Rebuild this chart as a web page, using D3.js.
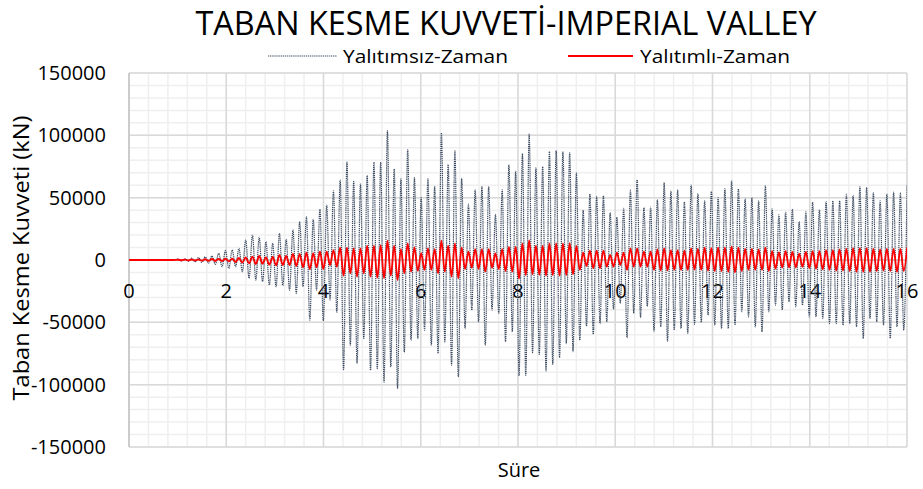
<!DOCTYPE html>
<html>
<head>
<meta charset="utf-8">
<script src="https://cdn.jsdelivr.net/npm/d3@7/dist/d3.min.js"></script>
<style>
  body { margin: 0; background: #fff; }
  text { font-family: "Open Sans", "Noto Sans", sans-serif; fill: #000; }
</style>
</head>
<body>
<div id="chart"></div>
<script>
// peaks of each oscillation cycle, in 1000 kN
// cycle k has its max at t0 + k*period and its min half a period later
var t0 = 1.012, period = 0.1388;

var yalitimsizMax = [0.8,1.0,1.5,2.0,2.5,3.2,5.4,7.5,8.0,9.4,
  16,20,18.2,14.7,13.4,21.4,16.6,24.1,30.8,34.8,
  32.7,40.7,44,55.5,64,78.5,63,61,67.8,78.5,
  78.5,103.7,73,65,88.4,66,50,65,59,102,
  76.5,87.5,65.4,44.8,56.3,58.9,58.9,36.7,56.3,76.4,
  71.2,85.5,101,74,75,87,88,87,86,69.7,
  40,53,51,51.5,38,34.3,41.5,56,64.5,42,
  42.5,48.5,62.2,55.3,56.3,46.5,60,53,47.4,54.9,
  50,57,63.5,57,49,50,47.4,59.5,41,36.2,
  38.3,40.7,30.8,38.6,46.4,40.2,46.9,47.4,47.4,52.8,
  51.8,58.7,58.2,54.1,47.4,52.8,54.4,53.6,60.8];

var yalitimsizMin = [-0.8,-1.0,-1.5,-2.0,-2.5,-3.5,-5.4,-6.7,-5.4,-9.4,
  -14.7,-16.1,-17.4,-20.1,-21.4,-20.6,-24.1,-26.8,-21.4,-48.2,
  -24.1,-48.8,-32,-42,-88,-68.3,-83,-63,-88.5,-87.2,
  -97.9,-85.8,-103.2,-74,-64.3,-63,-56.3,-68.3,-75,-65.6,
  -84.4,-93.8,-55,-40.2,-49.6,-68.3,-40.2,-42.9,-65.6,-57.6,
  -93,-92.5,-74.4,-75.7,-89,-83.7,-78.4,-67,-73.5,-64.3,
  -53,-59.6,-51,-49.6,-39.5,-34.8,-62.3,-42.9,-46.2,-37.2,
  -57,-53.6,-65,-56.2,-54.9,-58.9,-51.6,-50,-44.2,-52.3,
  -55,-55,-52.3,-41.5,-45.6,-53.6,-57.6,-41.5,-36.2,-40,
  -33.5,-37.5,-36.2,-45.6,-45.6,-47,-51,-51,-52.3,-51,
  -53.6,-63,-47,-49.6,-52.3,-63,-53.6,-56.3];

var yalitimliMax = [0.2,0.3,0.4,0.5,0.6,0.8,0.9,1.0,1.0,1.6,
  2.1,2.7,3.2,2.1,2.5,4,3.2,4.8,4.8,5.9,
  5.4,6.7,6.7,8,9.9,10,9.4,9.4,11.5,11.5,
  12,15.5,11.5,8.8,13.4,10.2,5.4,9.4,8.8,15.5,
  11.5,13.4,9.9,6.7,8.8,8.8,8.8,5.4,8.8,10.5,
  10.7,13.4,15.8,11.5,11.5,13.4,13.4,13.4,13.5,11.3,
  5.9,7.5,7.5,7.5,4,5.9,5.9,9.4,9.4,6.7,
  6.7,8.6,9.4,8,8,7.5,9.4,9,10,9.5,
  10,10,11,10,9,9,8.5,10,7,6,
  7,6.5,5,6.5,7,7,8,8,8.5,9,
  9.5,9.5,9.5,9,8.5,9,9,9,10];

var yalitimliMin = [-0.2,-0.3,-0.4,-0.5,-0.6,-0.8,-0.9,-1.0,-1.6,-2.1,
  -2.7,-3.2,-3,-3.8,-4.3,-4,-4,-4.8,-5.9,-7.5,
  -5.9,-7.2,-4,-5.4,-12.6,-10.7,-13.4,-10.7,-13.4,-14.2,
  -14.7,-12.6,-16.1,-10.7,-9.4,-8.8,-8,-8,-10.7,-9.4,
  -13.4,-14.7,-7.2,-6.2,-7.2,-9.4,-6.2,-7.2,-9,-9.4,
  -15,-12.1,-11.5,-12,-12.5,-12,-12.5,-12,-11.5,-8,
  -4.8,-6.7,-6.7,-5.4,-5.4,-4,-8,-5.4,-5.4,-5.4,
  -8,-8.3,-8.3,-8,-8,-8,-7.8,-8,-8.5,-9,
  -9,-9.5,-10,-9,-8,-8,-8,-9,-7,-6,
  -6,-6,-5.5,-6.5,-7,-7.5,-8,-8.5,-8.5,-9,
  -9.5,-9.5,-9.5,-9,-8.5,-9,-9.5,-9];

var xTicks = [0,2,4,6,8,10,12,14,16];
var yTicks = [-150000,-100000,-50000,0,50000,100000,150000];

function buildSeries(maxs, mins) {
  var pts = [{t: 0, v: 0}, {t: 0.9, v: 0}];
  maxs.forEach(function(m, k) {
    var tk = t0 + k * period;
    pts.push({t: tk, v: m * 1000});
    if (k < mins.length) pts.push({t: tk + period / 2, v: mins[k] * 1000});
  });
  return pts;
}

var dataYalitimsiz = buildSeries(yalitimsizMax, yalitimsizMin);
var dataYalitimli = buildSeries(yalitimliMax, yalitimliMin);

var width = 923, height = 489;
var plot = {left: 129, right: 907, top: 73, bottom: 447};

var x = d3.scaleLinear().domain([0, 16]).range([plot.left, plot.right]);
var y = d3.scaleLinear().domain([-150000, 150000]).range([plot.bottom, plot.top]);

var svg = d3.select("#chart").append("svg")
    .attr("width", width)
    .attr("height", height);

svg.append("rect").attr("width", width).attr("height", height).attr("fill", "#fff");

// minor grid
var grid = svg.append("g");
grid.selectAll("line.mx")
    .data(d3.range(0, 16.001, 0.4))
  .enter().append("line")
    .attr("x1", d => x(d)).attr("x2", d => x(d))
    .attr("y1", plot.top).attr("y2", plot.bottom)
    .attr("stroke", "#efefef").attr("stroke-width", 1.5);
grid.selectAll("line.my")
    .data(d3.range(-150000, 150001, 10000))
  .enter().append("line")
    .attr("y1", d => y(d)).attr("y2", d => y(d))
    .attr("x1", plot.left).attr("x2", plot.right)
    .attr("stroke", "#efefef").attr("stroke-width", 1.5);

// major grid
grid.selectAll("line.Mx")
    .data(xTicks)
  .enter().append("line")
    .attr("x1", d => x(d)).attr("x2", d => x(d))
    .attr("y1", plot.top).attr("y2", plot.bottom)
    .attr("stroke", "#d9d9d9").attr("stroke-width", 1.5);
grid.selectAll("line.My")
    .data(yTicks)
  .enter().append("line")
    .attr("y1", d => y(d)).attr("y2", d => y(d))
    .attr("x1", plot.left).attr("x2", plot.right)
    .attr("stroke", "#d9d9d9").attr("stroke-width", 1.5);

// axis lines
svg.append("line")
    .attr("x1", x(0)).attr("x2", x(0)).attr("y1", plot.top).attr("y2", plot.bottom)
    .attr("stroke", "#c6c6c6").attr("stroke-width", 1.5);
svg.append("line")
    .attr("x1", plot.left).attr("x2", plot.right).attr("y1", y(0)).attr("y2", y(0))
    .attr("stroke", "#c6c6c6").attr("stroke-width", 1.5);

// tick labels
svg.append("g").selectAll("text")
    .data(yTicks)
  .enter().append("text")
    .attr("x", 106)
    .attr("y", d => y(d))
    .attr("dy", "0.35em")
    .attr("text-anchor", "end")
    .style("font-size", "20px")
    .text(d => d);

svg.append("g").selectAll("text")
    .data(xTicks)
  .enter().append("text")
    .attr("x", d => x(d))
    .attr("y", 291)
    .attr("dy", "0.35em")
    .attr("text-anchor", "middle")
    .style("font-size", "20px")
    .text(d => d);

// lines
svg.append("clipPath").attr("id", "clip")
  .append("rect")
    .attr("x", plot.left).attr("y", plot.top)
    .attr("width", plot.right - plot.left).attr("height", plot.bottom - plot.top);

var line = d3.line()
    .x(d => x(d.t))
    .y(d => y(d.v))
    .curve(d3.curveMonotoneX);

svg.append("path")
    .datum(dataYalitimsiz)
    .attr("clip-path", "url(#clip)")
    .attr("fill", "none")
    .attr("stroke", "#3b4a60")
    .attr("stroke-width", 1.2)
    .attr("stroke-dasharray", "1.3,0.8")
    .attr("d", line);

svg.append("path")
    .datum(dataYalitimli)
    .attr("clip-path", "url(#clip)")
    .attr("fill", "none")
    .attr("stroke", "#ff0000")
    .attr("stroke-width", 1.8)
    .attr("d", line);

// title
svg.append("text")
    .attr("x", 506)
    .attr("y", 35)
    .attr("text-anchor", "middle")
    .attr("textLength", 621)
    .attr("lengthAdjust", "spacingAndGlyphs")
    .style("font-size", "32px")
    .text("TABAN KESME KUVVETİ-IMPERIAL VALLEY");

// legend
var legend = svg.append("g");
legend.append("line")
    .attr("x1", 268).attr("x2", 337).attr("y1", 56).attr("y2", 56)
    .attr("stroke", "#3b4a60").attr("stroke-width", 1.2)
    .attr("stroke-dasharray", "1.3,0.8");
legend.append("text")
    .attr("x", 343).attr("y", 63)
    .attr("textLength", 165)
    .attr("lengthAdjust", "spacingAndGlyphs")
    .style("font-size", "19px")
    .text("Yalıtımsız-Zaman");
legend.append("line")
    .attr("x1", 568).attr("x2", 633).attr("y1", 56).attr("y2", 56)
    .attr("stroke", "#ff0000").attr("stroke-width", 1.8);
legend.append("text")
    .attr("x", 640).attr("y", 63)
    .attr("textLength", 150)
    .attr("lengthAdjust", "spacingAndGlyphs")
    .style("font-size", "19px")
    .text("Yalıtımlı-Zaman");

// axis titles
svg.append("text")
    .attr("transform", "translate(29,258) rotate(-90)")
    .attr("text-anchor", "middle")
    .attr("textLength", 285)
    .attr("lengthAdjust", "spacingAndGlyphs")
    .style("font-size", "21px")
    .text("Taban Kesme Kuvveti (kN)");

svg.append("text")
    .attr("x", 519)
    .attr("y", 477)
    .attr("text-anchor", "middle")
    .style("font-size", "20px")
    .text("Süre");
</script>
</body>
</html>
